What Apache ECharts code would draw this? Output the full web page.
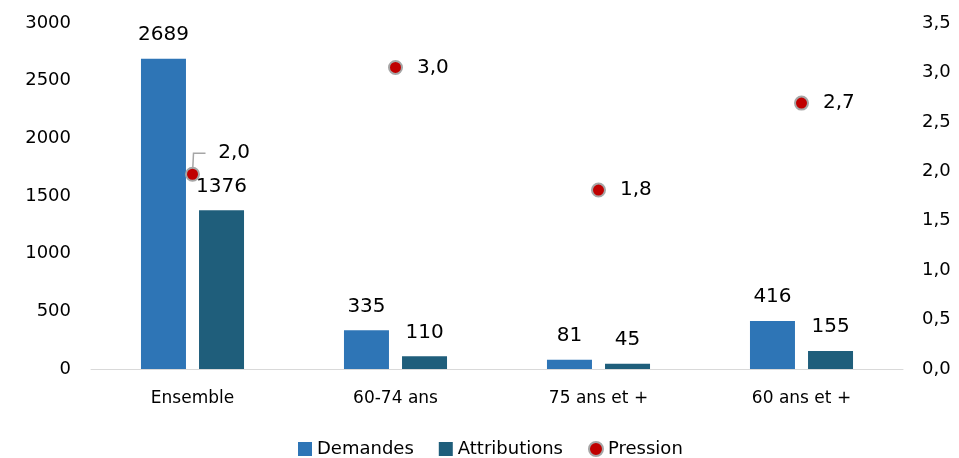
<!DOCTYPE html>
<html><head><meta charset="utf-8">
<script src="https://cdn.jsdelivr.net/npm/echarts@6/dist/echarts.min.js"></script>
<style>html,body{margin:0;padding:0;background:#fff}#c{width:959px;height:458px}</style>
</head><body><div id="c"></div>
<script>
const categories = ['Ensemble', '60-74 ans', '75 ans et +', '60 ans et +'];
const demandes = [2689, 335, 81, 416];
const attributions = [1376, 110, 45, 155];
const pression = [1.97, 3.05, 1.81, 2.69];
const leftTicks = [0, 500, 1000, 1500, 2000, 2500, 3000];
const rightTicks = [0, 0.5, 1, 1.5, 2, 2.5, 3, 3.5];

const FONT = 'DejaVu Sans';
const chart = echarts.init(document.getElementById('c'));
const fmt = v => v.toFixed(1).replace('.', ',');
chart.setOption({
  animation: false,
  textStyle: { fontFamily: FONT, color: '#000' },
  grid: { left: 91, right: 56, top: 23, bottom: 89 },
  legend: {
    top: 435, left: 293, itemWidth: 14, itemHeight: 14, itemGap: 25,
    textStyle: { fontFamily: FONT, fontSize: 18, color: '#000' },
    data: [{ name: 'Demandes', icon: 'rect' }, { name: 'Attributions', icon: 'rect' },
           { name: 'Pression', icon: 'circle', itemStyle: { color: '#C00000', borderColor: '#A6A6A6', borderWidth: 2 } }]
  },
  xAxis: {
    type: 'category', data: categories,
    axisLine: { lineStyle: { color: '#D9D9D9' } }, axisTick: { show: false },
    axisLabel: { fontSize: 17, color: '#000', margin: 21, fontFamily: FONT }
  },
  yAxis: [
    { type: 'value', min: leftTicks[0], max: leftTicks[leftTicks.length - 1], interval: 500,
      splitLine: { show: false }, axisLine: { show: false }, axisTick: { show: false },
      axisLabel: { fontSize: 18, color: '#000', margin: 20, fontFamily: FONT, formatter: v => String(v) } },
    { type: 'value', min: rightTicks[0], max: rightTicks[rightTicks.length - 1], interval: 0.5,
      splitLine: { show: false }, axisLine: { show: false }, axisTick: { show: false },
      axisLabel: { fontSize: 18, color: '#000', margin: 19, fontFamily: FONT, formatter: v => fmt(v) } }
  ],
  series: [
    { name: 'Demandes', type: 'bar', data: demandes, barWidth: 45, barGap: '29%',
      itemStyle: { color: '#2E75B6' },
      label: { show: true, position: 'top', fontSize: 20, color: '#000', distance: 14, fontFamily: FONT } },
    { name: 'Attributions', type: 'bar', data: attributions, barWidth: 45,
      itemStyle: { color: '#1F5E7B' },
      label: { show: true, position: 'top', fontSize: 20, color: '#000', distance: 14, fontFamily: FONT } },
    { name: 'Pression', type: 'scatter', yAxisIndex: 1, symbolSize: 13, z: 5,
      itemStyle: { color: '#C00000', borderColor: '#A6A6A6', borderWidth: 2, opacity: 1 },
      label: { show: true, position: 'right', distance: 14, fontSize: 20, color: '#000', opacity: 1, fontFamily: FONT, formatter: p => fmt(p.value) },
      labelLayout: p => p.dataIndex === 0 ? { dx: -8.5, dy: -21 } : {},
      data: pression.map((v, i) => i === 0 ? {
        value: v,
        label: { formatter: p => '\u00a0\u00a0' + fmt(p.value) },
        labelLine: { show: true, length2: 12, lineStyle: { color: '#A6A6A6', width: 1.5 } }
      } : v)
    }
  ]
});
</script></body></html>
